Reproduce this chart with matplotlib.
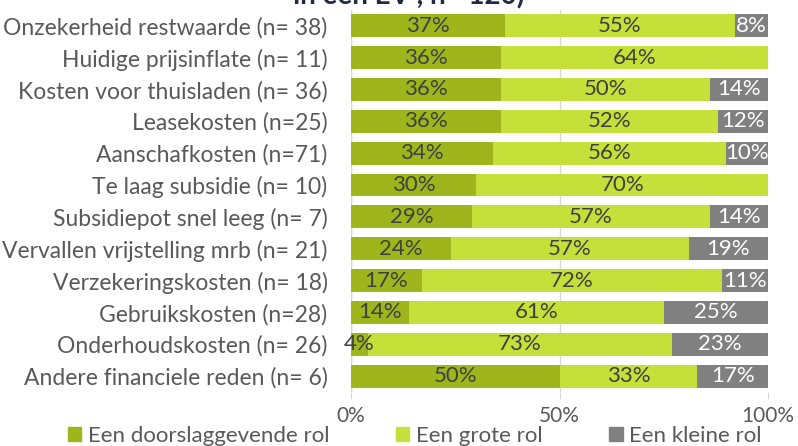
import matplotlib
matplotlib.use("Agg")
import matplotlib.pyplot as plt
from matplotlib.patches import Patch

categories = [
    "Onzekerheid restwaarde (n= 38)",
    "Huidige prijsinflate (n= 11)",
    "Kosten voor thuisladen (n= 36)",
    "Leasekosten (n=25)",
    "Aanschafkosten (n=71)",
    "Te laag subsidie (n= 10)",
    "Subsidiepot snel leeg (n= 7)",
    "Vervallen vrijstelling mrb (n= 21)",
    "Verzekeringskosten (n= 18)",
    "Gebruikskosten (n=28)",
    "Onderhoudskosten (n= 26)",
    "Andere financiele reden (n= 6)",
]
doorslaggevend = [37, 36, 36, 36, 34, 30, 29, 24, 17, 14, 4, 50]
groot = [55, 64, 50, 52, 56, 70, 57, 57, 72, 61, 73, 33]
klein = [8, 0, 14, 12, 10, 0, 14, 19, 11, 25, 23, 17]
series_names = ["Een doorslaggevende rol", "Een grote rol", "Een kleine rol"]
tick_vals = [0, 50, 100]
tick_labels = ["0%", "50%", "100%"]
title_text = "in een EV , n= 120)"

colors = ["#9fb51c", "#c6e03a", "#808080"]
text_colors = ["#404040", "#404040", "#ffffff"]

plt.rcParams['font.family'] = ['Lato', 'DejaVu Sans']

fig = plt.figure(figsize=(7.98, 4.46), dpi=100)
ax = fig.add_axes([0.44, 0.121, 0.5225, 0.857])

y = list(range(len(categories)))
left = [0] * len(categories)
for vals, col, tcol in zip([doorslaggevend, groot, klein], colors, text_colors):
    ax.barh(y, vals, left=left, height=0.72, color=col, zorder=2)
    for yi, (l, v) in enumerate(zip(left, vals)):
        if v > 0:
            ax.text(l + v / 2, yi, f"{v}%", ha="center", va="center",
                    fontsize=16, color=tcol, zorder=3)
    left = [a + b for a, b in zip(left, vals)]

ax.set_ylim(len(categories) - 0.5, -0.5)
ax.set_xlim(0, 100)
ax.set_yticks(y)
ax.set_yticklabels(categories, fontsize=16.5, color="#595959")
ax.tick_params(axis="y", length=0, pad=17)
ax.set_xticks(tick_vals)
ax.set_xticklabels(tick_labels, fontsize=15, color="#595959")
ax.tick_params(axis="x", length=5, color="#d9d9d9", pad=5)
ax.grid(axis="x", color="#d9d9d9", linewidth=1, zorder=0)
for s in ["top", "right", "left", "bottom"]:
    ax.spines[s].set_visible(False)
ax.axvline(0, color="#d9d9d9", linewidth=1, zorder=1)

fig.text(0.512, 0.989, title_text, ha="center", va="baseline", fontsize=20,
         fontweight="bold", color="#1f2a44")

handles = [Patch(facecolor=c, edgecolor=c) for c in colors]
fig.legend(handles, series_names, loc="lower left", bbox_to_anchor=(0.06, -0.045),
           ncol=3, frameon=False, fontsize=16, handlelength=0.6, handleheight=0.6,
           handletextpad=0.3, columnspacing=3.0, labelcolor="#595959")

fig.savefig("out.png", dpi=100)
